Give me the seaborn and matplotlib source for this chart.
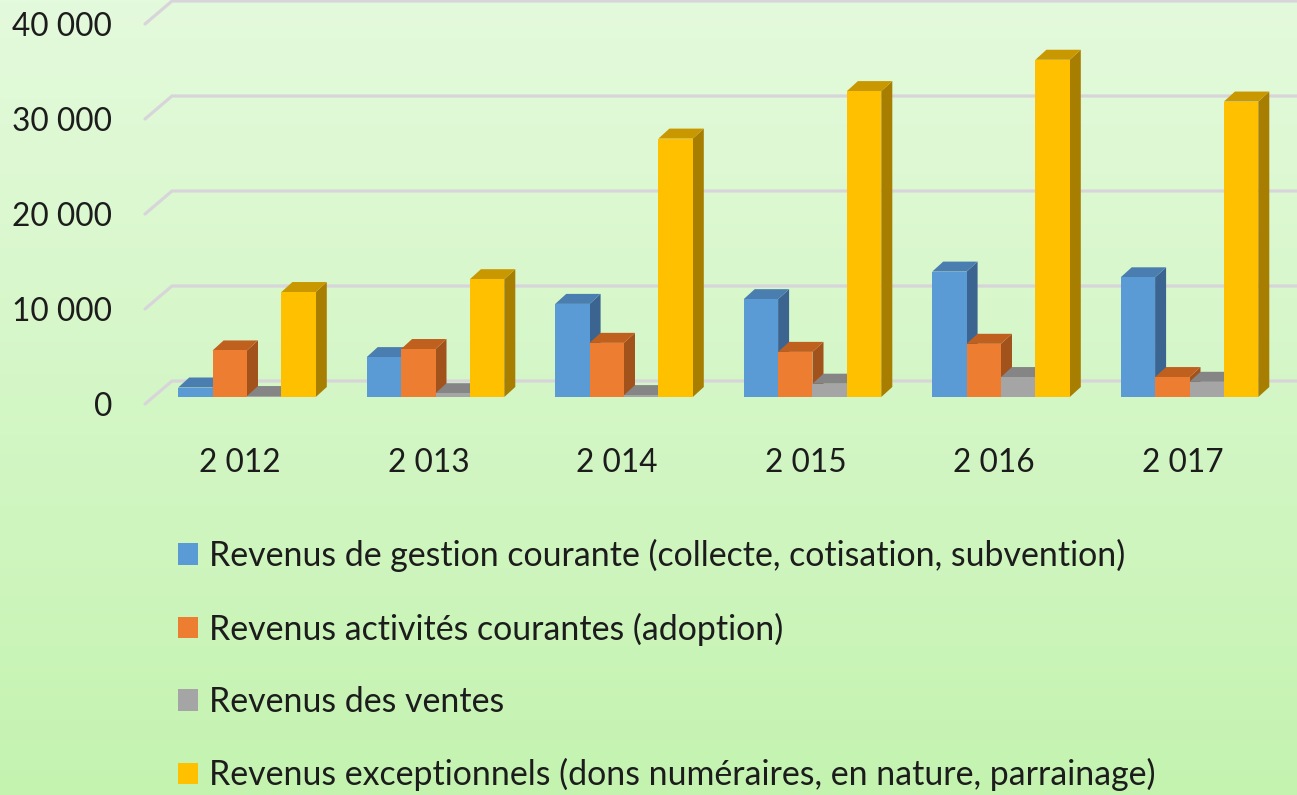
import numpy as np
import pandas as pd
import matplotlib
matplotlib.use("Agg")
import matplotlib.pyplot as plt
import matplotlib.transforms as mtransforms
from matplotlib.patches import Polygon, Patch
import seaborn as sns

# Data
years = ["2 012", "2 013", "2 014", "2 015", "2 016", "2 017"]
gestion = [1000, 4200, 9800, 10300, 13200, 12600]
activites = [4900, 5050, 5700, 4750, 5600, 2100]
ventes = [100, 400, 200, 1400, 2100, 1600]
exceptionnels = [11050, 12400, 27200, 32200, 35500, 31100]
series = ["Revenus de gestion courante (collecte, cotisation, subvention)",
          "Revenus activités courantes (adoption)",
          "Revenus des ventes",
          "Revenus exceptionnels (dons numéraires, en nature, parrainage)"]
yticks = [0, 10000, 20000, 30000, 40000]
ytick_labels = ["0", "10 000", "20 000", "30 000", "40 000"]

colors = ["#5B9BD5", "#ED7D31", "#A5A5A5", "#FFC000"]
tops = ["#4A7EB0", "#C0601F", "#858585", "#C99800"]
sides = ["#3B6590", "#A2521B", "#7A7A7A", "#A87E00"]

df = pd.DataFrame({
    "year": years * 4,
    "serie": sum([[s] * len(years) for s in series], []),
    "value": gestion + activites + ventes + exceptionnels,
})

sns.set_style("white")
plt.rcParams["font.family"] = ["Lato", "DejaVu Sans"]

W, H = 1297, 795
fig = plt.figure(figsize=(W / 100, H / 100), dpi=100)

# gradient background
bg = fig.add_axes([0, 0, 1, 1], zorder=-10)
top_c = np.array([228, 250, 220]) / 255
bot_c = np.array([196, 243, 176]) / 255
t = np.linspace(0, 1, 256)[:, None]
grad = (top_c[None, :] * (1 - t) + bot_c[None, :] * t)[:, None, :]
bg.imshow(grad, aspect="auto", extent=[0, 1, 0, 1])
bg.axis("off")

# pixel geometry
base_px, ypx = 397, 0.0095      # bar baseline pixel, pixels per unit
x0_px, xstep = 247, 188.5
ax_left, ax_bottom = 140, 430
ax = fig.add_axes([ax_left / W, 1 - ax_bottom / H, (W - ax_left) / W, ax_bottom / H])
ax.patch.set_alpha(0)

sns.barplot(data=df, x="year", y="value", hue="serie", palette=colors,
            width=0.73, saturation=1, legend=False, ax=ax, edgecolor="none")

ax.set_xlim((ax_left - x0_px) / xstep, (W - x0_px) / xstep)
ax.set_ylim((base_px - ax_bottom) / ypx, base_px / ypx)

# 3D faces
dx = 11 / xstep
dy = 10 / ypx
bars = sorted([p for p in ax.patches], key=lambda p: p.get_x())
for k, p in enumerate(bars):
    ci = k % 4
    xa, w, h = p.get_x(), p.get_width(), p.get_height()
    xb = xa + w
    z = 3 + k * 0.01
    p.set_zorder(z + 0.005)
    top = Polygon([(xa, h), (xb, h), (xb + dx, h + dy), (xa + dx, h + dy)],
                  closed=True, facecolor=tops[ci], edgecolor="none", zorder=z)
    side = Polygon([(xb, 0), (xb + dx, dy), (xb + dx, h + dy), (xb, h)],
                   closed=True, facecolor=sides[ci], edgecolor="none", zorder=z)
    ax.add_patch(side)
    ax.add_patch(top)

# back wall gridlines with diagonal to the front
front_off, back_off = -7 / ypx, 16 / ypx
xf, xbk = (145 - x0_px) / xstep, (172 - x0_px) / xstep
xr = (W - x0_px) / xstep
for v in yticks:
    ax.plot([xf, xbk, xr], [v + front_off, v + back_off, v + back_off],
            color="#D8D5DA", lw=2.3, zorder=1, clip_on=False,
            solid_joinstyle="miter")

ax.set_yticks(yticks)
ax.set_yticklabels(ytick_labels)
ax.set_xlabel("")
ax.set_ylabel("")
ax.tick_params(axis="both", length=0, labelsize=22.8, labelcolor="#1C1C1C")
ax.tick_params(axis="y", pad=20)
ax.tick_params(axis="x", pad=13)
for lab in ax.get_yticklabels():
    lab.set_transform(lab.get_transform() +
                      mtransforms.ScaledTranslation(0, -7 / 100, fig.dpi_scale_trans))
for lab in ax.get_xticklabels():
    lab.set_transform(lab.get_transform() +
                      mtransforms.ScaledTranslation(-7 / 100, 0, fig.dpi_scale_trans))
sns.despine(ax=ax, left=True, bottom=True)

handles = [Patch(facecolor=c, edgecolor="none", label=s) for c, s in zip(colors, series)]
fig.legend(handles=handles, loc="upper left", bbox_to_anchor=(178 / W, 1 - 539 / H),
           frameon=False, fontsize=24.4, handlelength=0.6, handleheight=0.6,
           handletextpad=0.3, labelspacing=1.19, borderpad=0, borderaxespad=0,
           labelcolor="#1C1C1C")

fig.savefig("out.png", dpi=100)
